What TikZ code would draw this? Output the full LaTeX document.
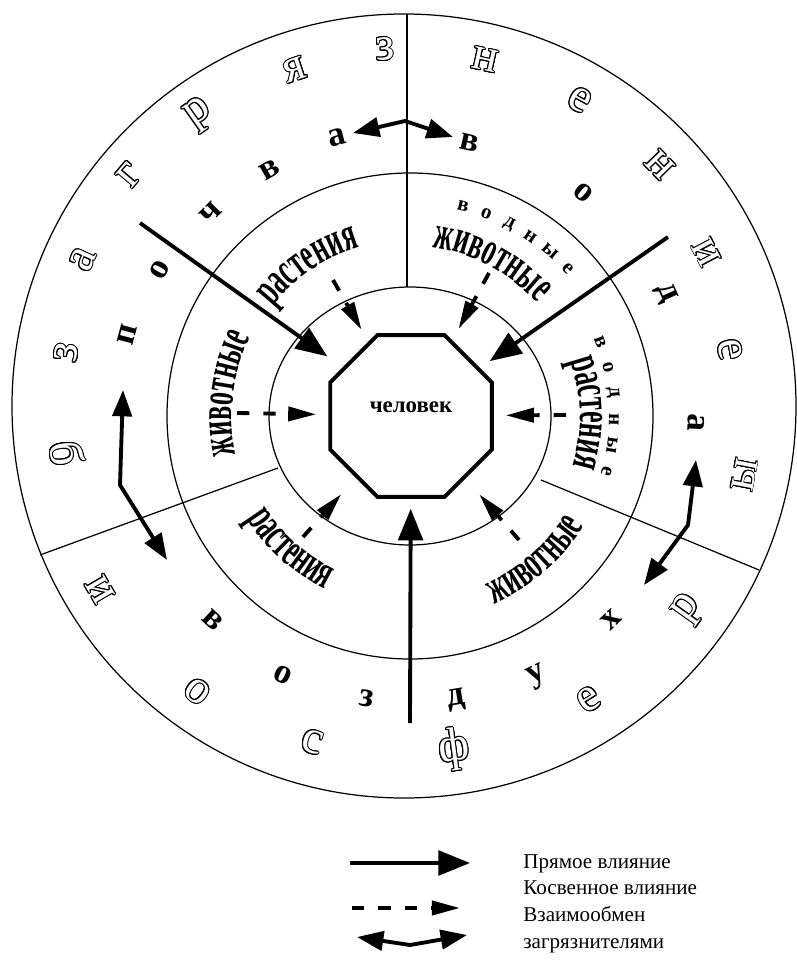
\documentclass[tikz,border=0pt]{standalone}
\usepackage{fontspec}
\setmainfont{Liberation Serif}
\newfontfamily\narrowfont[FakeStretch=0.55]{Liberation Serif Bold}
\usepackage[copies]{contour}
\contourlength{0.55pt}
\usetikzlibrary{arrows.meta, positioning, shapes.geometric, decorations.text}

\newcommand{\hollowchar}[1]{{\color{white}\contour{black}{#1}}}

\begin{document}
\begin{tikzpicture}[
  x=0.02cm, y=0.02cm,
  ring/.style={line width=0.7pt},
  hl/.style={font=\fontsize{27}{27}\selectfont, inner sep=0pt},
  bl/.style={font=\bfseries\fontsize{20}{20}\selectfont, inner sep=0pt},
  sl/.style={font=\bfseries\fontsize{12}{12}\selectfont, inner sep=0pt},
  man/.style={regular polygon, regular polygon sides=8, minimum size=3.5cm,
              draw, line width=2.2pt, font=\bfseries\fontsize{13}{13}\selectfont,
              text depth=10pt},
  direct/.style={-{Triangle[length=18pt, width=14pt]}, line width=2.2pt},
  indirect/.style={-{Triangle[length=16pt, width=8pt]}, line width=2.2pt,
                   dash pattern=on 7pt off 8pt},
  swap/.style={{Triangle[length=15pt, width=11pt]}-{Triangle[length=15pt, width=11pt]},
               line width=2.2pt},
  arctext/.style={decorate, decoration={text along path, text align=center,
                  text={|\narrowfont\fontsize{27}{27}\selectfont|#1}}},
  legtext/.style={font=\fontsize{12}{12}\selectfont, anchor=west, inner sep=0pt,
                  text height=9pt, text depth=3pt}
]
\useasboundingbox (0,0) rectangle (796,-962);

% rings and sectors
\draw[ring] (404,-406) circle[radius=392];
\draw[ring] (410,-416) circle[radius=243];
\draw[ring] (410,-416) ellipse[x radius=141, y radius=129];
\draw[ring] (407,-14) -- (407,-287);
\draw[ring] (40,-555) -- (278,-468);
\draw[ring] (541,-480) -- (759,-570);

\node[man] (man) at (411,-416) {человек};

% letters of the outer band
\begin{scope}[shift={(408,-410)}]
  \foreach \a/\r/\ch [count=\i] in {170.5/346/з, 155.2/358/а, 139.8/364/г, 125.2/361/р,
      108.4/358/я, 93.7/361/з, 77.6/358/н, 61/354/е, 44.2/351/н, 27.8/337/и, 10.6/327/е}
    \node[hl, rotate=\a-90] (up\i) at (\a:\r) {\hollowchar{\ch}};
  \foreach \a/\r/\ch [count=\i] in {187.2/344/б, 210.3/357/и, 233.2/352/о, 253.9/346/с,
      277.7/343/ф, 302/342/е, 324.6/345/р, 349.1/343/ы}
    \node[hl, rotate=\a+90] (lo\i) at (\a:\r) {\hollowchar{\ch}};
  \foreach \a/\r/\ch [count=\i] in {165/291/п, 150.6/285/о, 135.1/279/ч, 119.9/277/в,
      104.6/282/а, 77.1/274/в, 51/279/о, 24.4/283/д, -2.6/288/а}
    \node[bl, rotate=\a-90] (soil\i) at (\a:\r) {\ch};
  \foreach \a/\r/\ch [count=\i] in {227.1/287/в, 244.7/293/о, 261.9/291/з, 279.4/294/д,
      295.9/297/у, 314/292/х}
    \node[bl, rotate=\a+90] (air\i) at (\a:\r) {\ch};
\end{scope}

% middle band
\begin{scope}[shift={(410,-416)}]
  \path[arctext=растения] (154:176) arc[start angle=154, end angle=94, radius=176];
  \path[arctext=животные] (203:178) arc[start angle=203, end angle=143, radius=178];
  \path[arctext=животные] (92:170) arc[start angle=92, end angle=32, radius=170];
  \path[arctext=растения] (31:170) arc[start angle=31, end angle=-29, radius=170];
  \path[arctext=животные] (-79:206) arc[start angle=-79, end angle=-19, radius=206];
  \path[arctext=растения] (198:193) arc[start angle=198, end angle=258, radius=193];
  \foreach \a/\ch [count=\i] in {75.8/в, 69.3/о, 62.7/д, 56.2/н, 49.6/ы, 43.1/е}
    \node[sl, rotate=\a-90] (wa\i) at (\a:216) {\ch};
  \foreach \a/\ch [count=\i] in {21.2/в, 13.8/о, 6.5/д, -0.9/н, -8.2/ы, -15.6/е}
    \node[sl, rotate=\a-90] (wb\i) at (\a:204) {\ch};
\end{scope}

% direct influence
\coordinate (s1) at (140,-223);
\coordinate (s2) at (668,-237);
\coordinate (s3) at (410,-723);
\draw[direct, shorten >=10.7pt] (s1) -- (man);
\draw[direct, shorten >=6.8pt] (s2) -- (man);
\draw[direct, shorten >=5.7pt] (s3) -- (man);

% indirect influence
\coordinate (d1) at (333,-280);
\coordinate (d2) at (489,-273);
\coordinate (d3) at (237,-413);
\coordinate (d4) at (566,-415);
\coordinate (d5) at (303,-537);
\coordinate (d6) at (519,-540);
\draw[indirect, shorten >=7.7pt] (d1) -- (man);
\draw[indirect, shorten >=7.4pt] (d2) -- (man);
\draw[indirect, shorten >=6.8pt] (d3) -- (man);
\draw[indirect, shorten >=6.8pt] (d4) -- (man);
\draw[indirect, shorten >=12.4pt] (d5) -- (man);
\draw[indirect, shorten >=11.9pt] (d6) -- (man);

% exchange of pollutants
\coordinate (x1) at (353,-133);
\coordinate (x2) at (405,-121);
\coordinate (x3) at (453,-137);
\coordinate (y1) at (123,-390);
\coordinate (y2) at (120,-485);
\coordinate (y3) at (167,-560);
\coordinate (w1) at (696,-460);
\coordinate (w2) at (688,-525);
\coordinate (w3) at (644,-585);
\draw[swap] (x1) -- (x2) -- (x3);
\draw[swap] (y1) -- (y2) -- (y3);
\draw[swap] (w1) -- (w2) -- (w3);

% legend
\node[legtext] (leg1) at (523,-863) {Прямое влияние};
\node[legtext, below right=2.8pt and 0pt of leg1.south west] (leg2) {Косвенное влияние};
\node[legtext, below right=2.8pt and 0pt of leg2.south west] (leg3) {Взаимообмен};
\node[legtext, below right=2.8pt and 0pt of leg3.south west] (leg4) {загрязнителями};
\coordinate (la) at (350,-863);
\coordinate (lb) at (470,-863);
\coordinate (lc) at (352,-908);
\coordinate (ld) at (460,-908);
\coordinate (le) at (357,-937);
\coordinate (lf) at (410,-945);
\coordinate (lg) at (467,-935);
\draw[direct] (la) -- (lb);
\draw[indirect] (lc) -- (ld);
\draw[swap] (le) -- (lf) -- (lg);

\end{tikzpicture}
\end{document}
